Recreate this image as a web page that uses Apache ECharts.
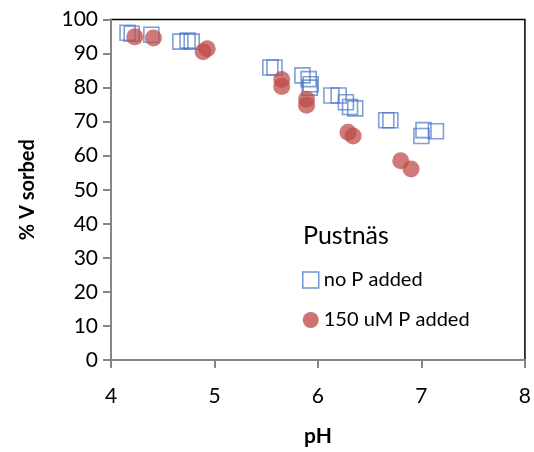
<!DOCTYPE html>
<html>
<head>
<meta charset="utf-8">
<script src="https://cdn.jsdelivr.net/npm/echarts@6/dist/echarts.min.js"></script>
<style>html,body{margin:0;padding:0;background:#fff}#c{width:534px;height:452px}</style>
</head>
<body>
<div id="c"></div>
<script>
// no P added: [pH, % V sorbed]
const noP_pH = [4.16, 4.20, 4.39, 4.67, 4.74, 4.78, 5.54, 5.58, 5.85, 5.91, 5.93, 5.92, 6.13, 6.20, 6.27, 6.31, 6.36, 6.66, 6.70, 7.00, 7.02, 7.14];
const noP_V  = [96.1, 95.8, 95.5, 93.5, 93.8, 93.5, 85.9, 85.9, 83.6, 82.5, 81.0, 80.0, 77.7, 77.7, 75.7, 74.3, 73.9, 70.4, 70.4, 65.8, 67.5, 67.2];
// 150 uM P added
const P150_pH = [4.23, 4.41, 4.89, 4.93, 5.65, 5.65, 5.89, 5.89, 6.29, 6.34, 6.80, 6.90];
const P150_V  = [94.9, 94.6, 90.5, 91.4, 82.4, 80.3, 76.6, 74.8, 66.9, 65.8, 58.5, 56.1];
const seriesNames = ['no P added', '150 uM P added'];
const legendTitle = 'Pustnäs';
const xTicks = [4, 5, 6, 7, 8];
const yTicks = [0, 10, 20, 30, 40, 50, 60, 70, 80, 90, 100];

const zip = (a, b) => a.map((v, i) => [v, b[i]]);
const FONT = 'Lato';
const chart = echarts.init(document.getElementById('c'), null, {renderer: 'canvas'});
chart.setOption({
  animation: false,
  textStyle: {fontFamily: FONT},
  grid: {left: 111, right: 6, top: 19.5, bottom: 89.3, show: true, borderColor: '#000', borderWidth: 1.5, containLabel: false},
  xAxis: {
    type: 'value', min: xTicks[0], max: xTicks[xTicks.length - 1], interval: 1,
    name: 'pH', nameLocation: 'middle', nameGap: 66,
    nameTextStyle: {fontFamily: FONT, fontSize: 21, fontWeight: 'bold', color: '#000'},
    axisLine: {show: true, lineStyle: {color: '#868686', width: 2}},
    axisTick: {show: true, inside: false, length: 8, lineStyle: {color: '#868686', width: 2}},
    axisLabel: {fontFamily: FONT, fontSize: 21, color: '#000', margin: 26},
    splitLine: {show: false}
  },
  yAxis: {
    type: 'value', min: yTicks[0], max: yTicks[yTicks.length - 1], interval: 10,
    name: '% V sorbed', nameLocation: 'middle', nameGap: 73, nameRotate: 90,
    nameTextStyle: {fontFamily: FONT, fontSize: 20, fontWeight: 'bold', color: '#000'},
    axisLine: {show: true, lineStyle: {color: '#868686', width: 2}},
    axisTick: {show: true, inside: false, length: 8, lineStyle: {color: '#868686', width: 2}},
    axisLabel: {fontFamily: FONT, fontSize: 21, color: '#000', margin: 13},
    splitLine: {show: false}
  },
  title: {
    text: legendTitle, left: 298, top: 218,
    textStyle: {fontFamily: FONT, fontSize: 25, fontWeight: 'normal', color: '#000'}
  },
  legend: {
    orient: 'vertical', left: 297, top: 265, itemGap: 20,
    itemWidth: 16, itemHeight: 16,
    textStyle: {fontFamily: FONT, fontSize: 20, color: '#000', padding: [0, 0, 0, 0]},
    data: [
      {name: seriesNames[0], icon: 'rect', itemStyle: {color: 'rgba(0,0,0,0)', borderColor: '#4a7ac4', borderWidth: 1.5}},
      {name: seriesNames[1], icon: 'circle', itemStyle: {color: '#c0504d'}}
    ]
  },
  series: [
    {
      name: seriesNames[0], type: 'scatter', symbol: 'rect', symbolSize: 15,
      itemStyle: {color: 'rgba(0,0,0,0)', borderColor: 'rgba(68,114,196,0.85)', borderWidth: 1.6},
      data: zip(noP_pH, noP_V), z: 2
    },
    {
      name: seriesNames[1], type: 'scatter', symbol: 'circle', symbolSize: 17,
      itemStyle: {color: 'rgba(190,75,72,0.92)'},
      data: zip(P150_pH, P150_V), z: 3
    }
  ]
});
</script>
</body>
</html>
